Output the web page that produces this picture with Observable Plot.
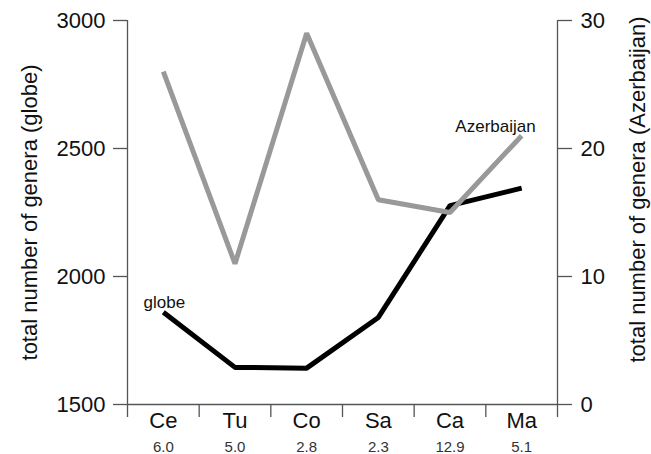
<!DOCTYPE html>
<html><head><meta charset="utf-8">
<script src="https://cdn.jsdelivr.net/npm/d3@7"></script>
<script src="https://cdn.jsdelivr.net/npm/@observablehq/plot@0.6"></script>
<style>body{margin:0;background:#fff} #chart svg{font-family:"Liberation Sans",Arial,sans-serif}</style>
</head><body><div id="chart"></div>
<script>
const categories = ["Ce","Tu","Co","Sa","Ca","Ma"];
const durations = ["6.0","5.0","2.8","2.3","12.9","5.1"];
const globe = [1860,1645,1642,1840,2277,2345];
const azerbaijan = [26,11,29,16,15,21];
const leftTicks = [1500,2000,2500,3000];
const rightTicks = [0,10,20,30];
const leftTitle = "total number of genera (globe)";
const rightTitle = "total number of genera (Azerbaijan)";

// right axis (0–30) is drawn on the same y scale as the left axis (1500–3000)
const toLeft = v => 1500 + v * 50;
const fromLeft = v => (v - 1500) / 50;
const rows = categories.map((c, i) => ({i, c, d: durations[i], globe: globe[i], az: toLeft(azerbaijan[i])}));
const bounds = d3.range(categories.length + 1).map(k => k - 0.5);
const axisGray = "#555";

const chart = Plot.plot({
  width: 651, height: 454,
  marginLeft: 127, marginRight: 94, marginTop: 20, marginBottom: 50,
  style: {fontFamily: '"Liberation Sans", Arial, sans-serif', fontSize: "22px", color: "#111", background: "white", overflow: "visible"},
  x: {type: "linear", domain: [-0.5, categories.length - 0.5]},
  y: {domain: [1500, 3000]},
  marks: [
    Plot.ruleX([-0.5, categories.length - 0.5], {stroke: axisGray, strokeWidth: 1.3}),
    Plot.ruleY([1500], {stroke: axisGray, strokeWidth: 1.3}),
    Plot.axisX(bounds, {tickSize: 13, tickFormat: () => "", stroke: axisGray, strokeWidth: 1.3, label: null}),
    Plot.axisY(leftTicks, {anchor: "left", tickSize: 14, tickPadding: 8, fontSize: 22, stroke: axisGray, strokeWidth: 1.3, fill: "#111", tickFormat: d => String(d), label: null}),
    Plot.axisY(rightTicks.map(toLeft), {anchor: "right", tickSize: 14, tickPadding: 9, fontSize: 22, stroke: axisGray, strokeWidth: 1.3, fill: "#111", tickFormat: d => String(fromLeft(d)), label: null}),
    Plot.text(rows, {x: "i", text: "c", frameAnchor: "bottom", dy: 23, fontSize: 22, fill: "#111"}),
    Plot.text(rows, {x: "i", text: "d", frameAnchor: "bottom", dy: 47, fontSize: 15, fill: "#333"}),
    Plot.line(rows, {x: "i", y: "globe", stroke: "#000", strokeWidth: 5, strokeLinejoin: "miter", strokeLinecap: "butt"}),
    Plot.line(rows, {x: "i", y: "az", stroke: "#999", strokeWidth: 5, strokeLinejoin: "miter", strokeLinecap: "butt"}),
    Plot.text([rows[0]], {x: "i", y: "globe", text: () => "globe", dx: 1, dy: -10, fontSize: 17, fill: "#111"}),
    Plot.text([rows[rows.length - 1]], {x: "i", y: "az", text: () => "Azerbaijan", textAnchor: "end", dx: 14, dy: -9, fontSize: 17, fill: "#111"}),
    Plot.text([leftTitle], {text: d => d, frameAnchor: "left", textAnchor: "middle", rotate: -90, dx: -98, fontSize: 22, fill: "#111"}),
    Plot.text([rightTitle], {text: d => d, frameAnchor: "right", textAnchor: "middle", rotate: -90, dx: 80, dy: -23, fontSize: 22, fill: "#111"})
  ]
});
document.getElementById("chart").append(chart);
</script>
</body></html>
